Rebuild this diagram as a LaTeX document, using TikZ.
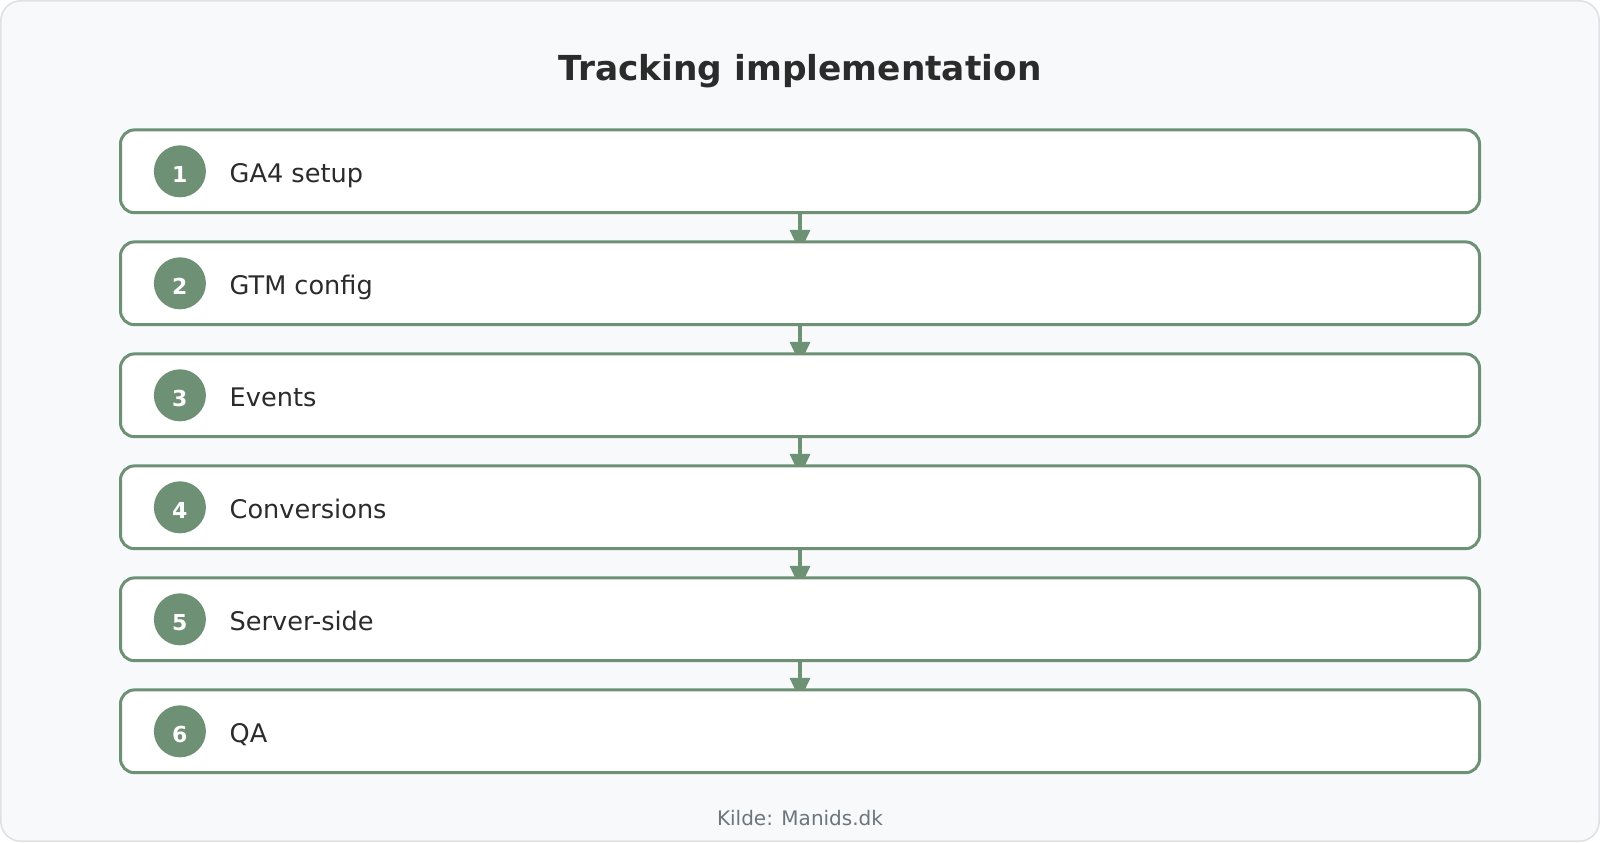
\documentclass[tikz,border=0pt]{standalone}
\usepackage{fontspec}
\setmainfont{DejaVu Sans}
\usetikzlibrary{arrows.meta, positioning, backgrounds}
\definecolor{stepgreen}{HTML}{6E9175}
\definecolor{inkgray}{HTML}{2B2B2B}
\definecolor{notegray}{HTML}{6C757D}
\definecolor{pagefill}{HTML}{F8F9FA}
\definecolor{pageline}{HTML}{DEE2E6}

\begin{document}
\begin{tikzpicture}[
            node distance=14.6pt,
            stepbox/.style={rectangle, rounded corners=7pt, draw=stepgreen, line width=1.5pt, fill=white, minimum width=679.5pt, minimum height=41.4pt, outer sep=0pt},
            numnode/.style={circle, fill=stepgreen, text=white, minimum size=26pt, inner sep=0pt, text height=11pt, text depth=0pt, font=\bfseries\fontsize{11}{13}\selectfont},
            labelnode/.style={inner sep=0pt, text height=11pt, text depth=0pt, text=inkgray, font=\fontsize{12.8}{15}\selectfont},
            steparrow/.style={-{Triangle[length=11pt, width=10pt]}, draw=stepgreen, line width=1.7pt},
            ]
            \useasboundingbox (0,0) rectangle (800pt,-421pt);
            \node[font=\bfseries\fontsize{17.2}{21}\selectfont, text=inkgray, anchor=base] (title) at (400pt,-40.4pt) {Tracking implementation};

            \node[stepbox]           (b1) at (400pt,-85.65pt) {};
            \node[stepbox]           (b2) [below=of b1] {};
            \node[stepbox]           (b3) [below=of b2] {};
            \node[stepbox]           (b4) [below=of b3] {};
            \node[stepbox]           (b5) [below=of b4] {};
            \node[stepbox]           (b6) [below=of b5] {};

            \node[numnode]           (n1) [right=16.5pt of b1.west] {1};
            \node[labelnode]         (l1) [right=11.5pt of n1] {GA4 setup};
            \node[numnode]           (n2) [right=16.5pt of b2.west] {2};
            \node[labelnode]         (l2) [right=11.5pt of n2] {GTM config};
            \node[numnode]           (n3) [right=16.5pt of b3.west] {3};
            \node[labelnode]         (l3) [right=11.5pt of n3] {Events};
            \node[numnode]           (n4) [right=16.5pt of b4.west] {4};
            \node[labelnode]         (l4) [right=11.5pt of n4] {Conversions};
            \node[numnode]           (n5) [right=16.5pt of b5.west] {5};
            \node[labelnode]         (l5) [right=11.5pt of n5] {Server-side};
            \node[numnode]           (n6) [right=16.5pt of b6.west] {6};
            \node[labelnode]         (l6) [right=11.5pt of n6] {QA};

            \node[font=\fontsize{10}{12}\selectfont, text=notegray, anchor=base] (note) at (400pt,-412.5pt) {Kilde: Manids.dk};

            \begin{scope}[on background layer]
            \draw[fill=pagefill, draw=pageline, line width=0.8pt, rounded corners=10pt] (0.4pt,-0.4pt) rectangle (799.6pt,-420.6pt);
            \draw[steparrow] (b1.south) -- ([yshift=-5pt]b2.north);
            \draw[steparrow] (b2.south) -- ([yshift=-5pt]b3.north);
            \draw[steparrow] (b3.south) -- ([yshift=-5pt]b4.north);
            \draw[steparrow] (b4.south) -- ([yshift=-5pt]b5.north);
            \draw[steparrow] (b5.south) -- ([yshift=-5pt]b6.north);
            \end{scope}
        \end{tikzpicture}
\end{document}
